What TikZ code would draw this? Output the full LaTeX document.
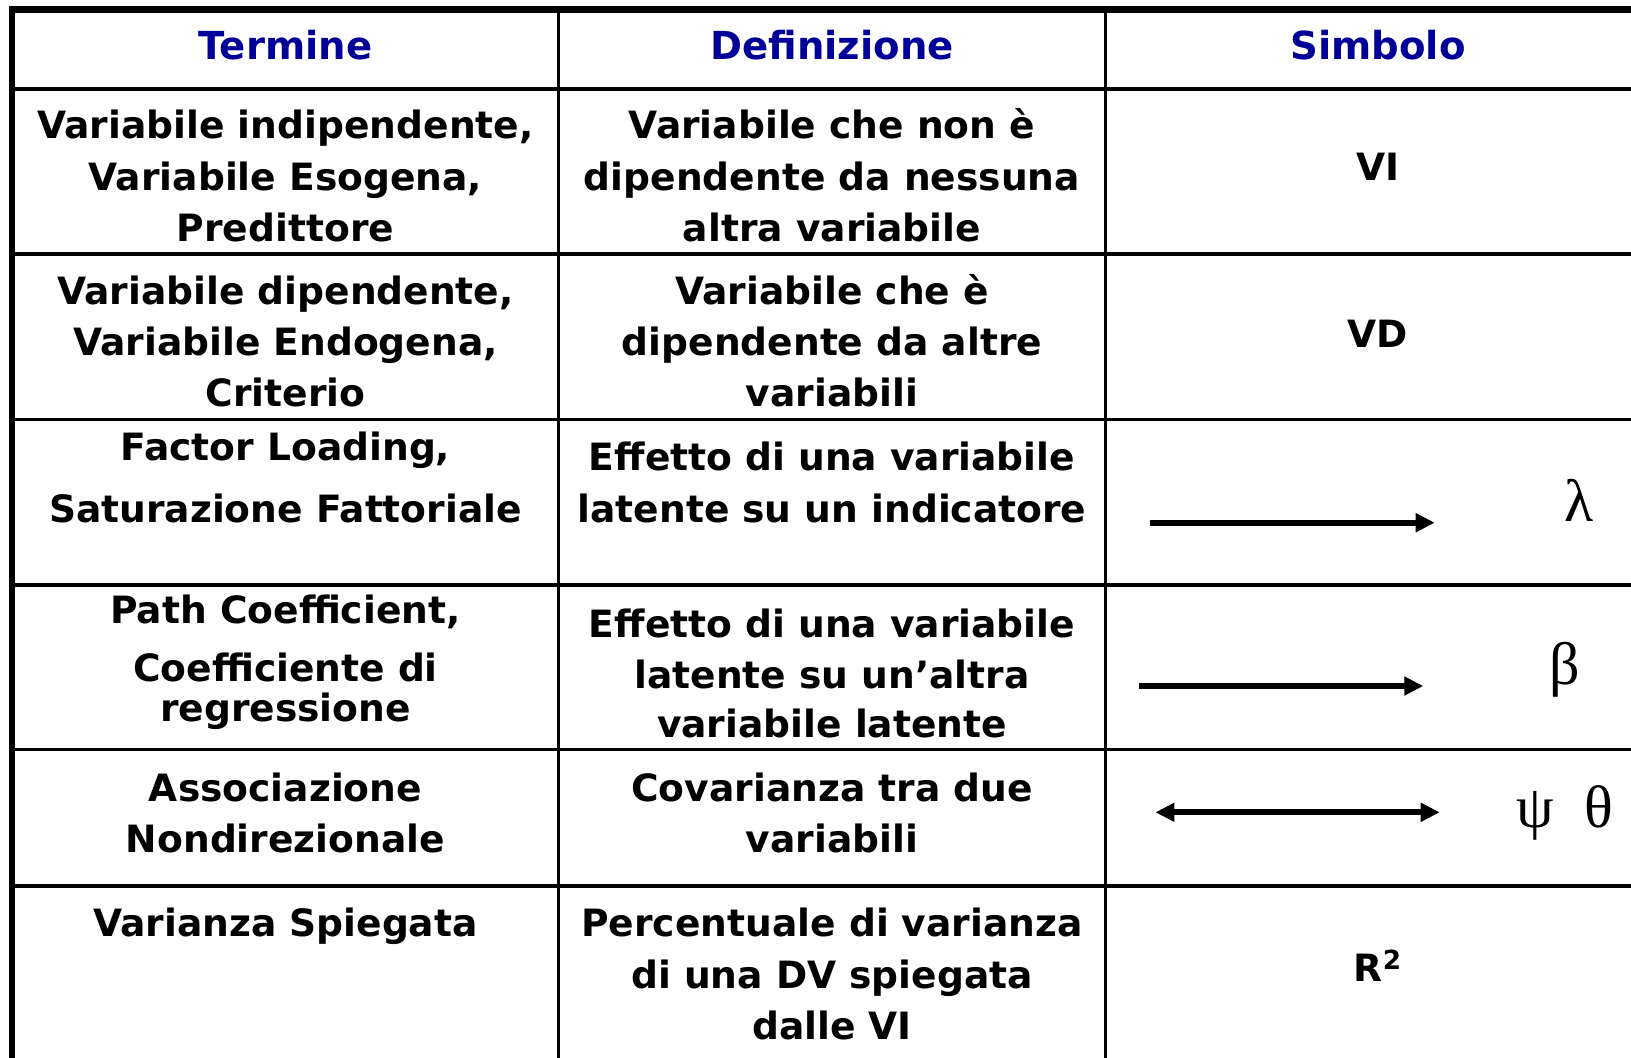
\documentclass[tikz,border=0pt]{standalone}
\usepackage{fontspec}
\setmainfont{DejaVu Sans}
\newfontfamily\grk{Liberation Serif}
\usetikzlibrary{arrows.meta}
\definecolor{hdrblue}{RGB}{0,0,153}
\begin{document}
\begin{tikzpicture}[x=0.5pt,y=-0.5pt,
  txt/.style={font=\bfseries\fontsize{18.8}{26}\selectfont, anchor=base, inner sep=0pt},
  hdr/.style={font=\bfseries\fontsize{19.3}{26}\selectfont, text=hdrblue, anchor=base, inner sep=0pt},
  grkst/.style={font=\grk\fontsize{30}{31}\selectfont, anchor=base, inner sep=0pt},
  thinrule/.style={line width=1.6pt},
  outerrule/.style={line width=3.4pt},
  arr/.style={line width=3pt, -{Triangle[length=9.5pt,width=9pt]}},
  darr/.style={line width=3pt, {Triangle[length=9.5pt,width=9pt]}-{Triangle[length=9.5pt,width=9pt]}}
]
\useasboundingbox (0,0) rectangle (1631,1058);
\fill[white] (0,0) rectangle (1631,1058);

% grid
\foreach \yy in {89,254,419.5,585,749.5,886} \draw[thinrule] (12,\yy) -- (1631,\yy);
\foreach \xx in {558.7,1105.7} \draw[thinrule] (\xx,9) -- (\xx,1058);
\draw[outerrule] (1631,9.5) -- (11.9,9.5) -- (11.9,1058);

% header
\node[hdr] (h1) at (285.5,60) {Termine};
\node[hdr] (h2) at (832,60) {Definizione};
\node[hdr] (h3) at (1378,60) {Simbolo};

% row 1
\node[txt] (r1a1) at (285.5,139) {Variabile indipendente,};
\node[txt] (r1a2) at (285.5,191) {Variabile Esogena,};
\node[txt] (r1a3) at (285.5,242) {Predittore};
\node[txt] (r1b1) at (832,139) {Variabile che non è};
\node[txt] (r1b2) at (832,191) {dipendente da nessuna};
\node[txt] (r1b3) at (832,242) {altra variabile};
\node[txt] (r1c) at (1378,181) {VI};

% row 2
\node[txt] (r2a1) at (285.5,305) {Variabile dipendente,};
\node[txt] (r2a2) at (285.5,356) {Variabile Endogena,};
\node[txt] (r2a3) at (285.5,407) {Criterio};
\node[txt] (r2b1) at (832,305) {Variabile che è};
\node[txt] (r2b2) at (832,356) {dipendente da altre};
\node[txt] (r2b3) at (832,407) {variabili};
\node[txt] (r2c) at (1378,348) {VD};

% row 3
\node[txt] (r3a1) at (285.5,460) {Factor Loading,};
\node[txt] (r3a2) at (285.5,522) {Saturazione Fattoriale};
\node[txt] (r3b1) at (832,471) {Effetto di una variabile};
\node[txt] (r3b2) at (832,522) {latente su un indicatore};
\coordinate (a1s) at (1149.6,522.7);
\coordinate (a1e) at (1434.7,522.7);
\draw[arr] (a1s) -- (a1e);
\node[grkst] (lam) at (1579,521.5) {λ};

% row 4
\node[txt] (r4a1) at (285.5,623.5) {Path Coefficient,};
\node[txt] (r4a2) at (285.5,681) {Coefficiente di};
\node[txt] (r4a3) at (285.5,721) {regressione};
\node[txt] (r4b1) at (832,637) {Effetto di una variabile};
\node[txt] (r4b2) at (832,688) {latente su un’altra};
\node[txt] (r4b3) at (832,737) {variabile latente};
\coordinate (a2s) at (1139.3,686);
\coordinate (a2e) at (1423.3,686);
\draw[arr] (a2s) -- (a2e);
\node[grkst] (bet) at (1565,684.7) {β};

% row 5
\node[txt] (r5a1) at (285.5,801.5) {Associazione};
\node[txt] (r5a2) at (285.5,852.5) {Nondirezionale};
\node[txt] (r5b1) at (832,801.5) {Covarianza tra due};
\node[txt] (r5b2) at (832,852.5) {variabili};
\coordinate (a3s) at (1155.4,812.3);
\coordinate (a3e) at (1439.7,812.3);
\draw[darr] (a3s) -- (a3e);
\node[grkst] (psi) at (1535.4,827.5) {ψ};
\node[grkst] (tht) at (1599,827.5) {θ};

% row 6
\node[txt] (r6a1) at (285.5,936.7) {Varianza Spiegata};
\node[txt] (r6b1) at (832,936.7) {Percentuale di varianza};
\node[txt] (r6b2) at (832,988.7) {di una DV spiegata};
\node[txt] (r6b3) at (832,1039.6) {dalle VI};
\node[txt] (r6c) at (1378,981.7) {R\textsuperscript{2}};
\end{tikzpicture}
\end{document}
